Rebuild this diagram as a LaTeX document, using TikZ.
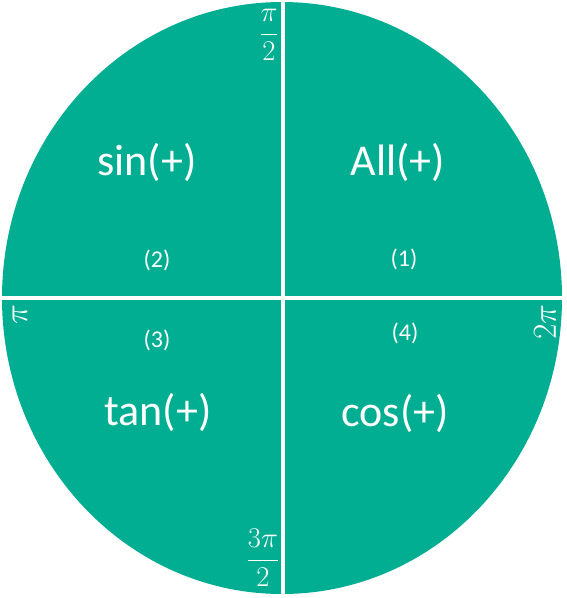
\documentclass[tikz,border=0pt]{standalone}
\usepackage{fontspec}
\setmainfont{Carlito}
\definecolor{quadteal}{RGB}{2,174,146}
\tikzset{
  bigtxt/.style={text=white, font=\fontsize{44}{50}\selectfont, inner sep=0pt},
  numtxt/.style={text=white, font=\fontsize{24}{28}\selectfont, inner sep=0pt},
  angtxt/.style={text=white, font=\fontsize{24}{28}\selectfont, inner sep=0pt, scale=1.15},
  sidetxt/.style={text=white, font=\fontsize{24}{28}\selectfont, inner sep=0pt, scale=1.35},
}
\begin{document}
\begin{tikzpicture}[x=1pt,y=1pt]
\useasboundingbox (0,0) rectangle (567,-598);
\fill[quadteal] (282,-298) ellipse [x radius=280, y radius=296];
\draw[white, line width=4pt] (282.5,0) -- (282.5,-598);
\draw[white, line width=4pt] (0,-297.5) -- (567,-297.5);
\node[bigtxt] (sin) at (147,-162) {sin(+)};
\node[bigtxt] (all) at (398,-162) {All(+)};
\node[bigtxt] (tan) at (158,-412) {tan(+)};
\node[bigtxt] (cos) at (395,-413) {cos(+)};
\node[numtxt] (q2) at (157,-260) {(2)};
\node[numtxt] (q1) at (404,-259) {(1)};
\node[numtxt] (q3) at (157,-340) {(3)};
\node[numtxt] (q4) at (405,-333) {(4)};
\node[angtxt] (halfpi) at (269,-35) {$\displaystyle\frac{\pi}{2}$};
\node[angtxt] (threehalfpi) at (263,-558) {$\displaystyle\frac{3\pi}{2}$};
\node[sidetxt, rotate=90] (pi) at (20,-315) {$\pi$};
\node[sidetxt, rotate=90] (twopi) at (545,-322) {$2\pi$};
\end{tikzpicture}
\end{document}
